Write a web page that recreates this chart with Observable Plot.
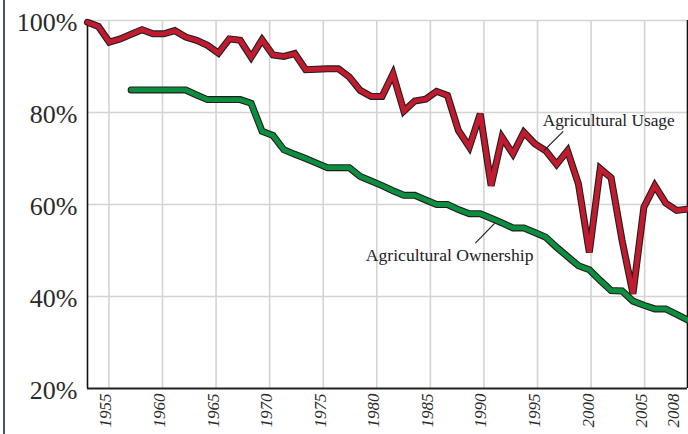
<!DOCTYPE html>
<html><head><meta charset="utf-8">
<script src="https://cdn.jsdelivr.net/npm/d3@7"></script>
<script src="https://cdn.jsdelivr.net/npm/@observablehq/plot@0.6"></script>
<style>
html,body{margin:0;padding:0;background:#fff;}
#wrap{position:relative;width:688px;height:434px;overflow:hidden;}
#edge{position:absolute;left:3px;top:0;width:2px;height:434px;background:#3f5861;}
#wrap svg{position:absolute;left:0;top:0;}
</style></head><body><div id="wrap"><div id="edge"></div></div>
<script>
const years = [1953,1954,1955,1956,1957,1958,1959,1960,1961,1962,1963,1964,1965,1966,1967,1968,1969,1970,1971,1972,1973,1974,1975,1976,1977,1978,1979,1980,1981,1982,1983,1984,1985,1986,1987,1988,1989,1990,1991,1992,1993,1994,1995,1996,1997,1998,1999,2000,2001,2002,2003,2004,2005,2006,2007,2008];
const usage = [99.6,98.7,95.3,96.0,97.0,98.0,97.1,97.1,97.8,96.4,95.7,94.6,92.9,96.0,95.7,92.0,95.8,92.5,92.2,92.8,89.3,89.4,89.5,89.5,87.7,84.8,83.5,83.5,88.4,80.3,82.5,82.9,84.6,83.7,76.1,72.5,79.7,64.1,74.6,71.0,75.7,73.2,71.7,68.7,71.7,64.5,49.6,67.8,65.8,52.2,40.6,59.4,64.1,60.3,58.7,59.0];
const ownershipStart = 1957;
const ownership = [84.9,84.9,84.9,84.9,84.9,84.9,83.8,82.8,82.8,82.8,82.8,82.0,75.9,75.0,71.9,70.9,70.0,69.0,68.0,68.0,68.0,66.1,65.1,64.1,63.0,62.0,62.0,61.0,60.0,60.0,58.9,58.0,58.0,57.0,56.0,54.9,54.9,53.9,52.9,50.7,48.7,46.7,45.8,43.5,41.3,41.2,39.0,38.1,37.3,37.3,36.1,34.9];
const xTickLabels = [1955,1960,1965,1970,1975,1980,1985,1990,1995,2000,2005,2008];
const xGrid = [1955,1960,1965,1970,1975,1980,1985,1990,1995,2000,2005];
const yTickLabels = [20,40,60,80,100];
const yGrid = [40,60,80,100];
const seriesNames = ["Agricultural Usage","Agricultural Ownership"];

const usageData = years.map((year, i) => ({year, value: usage[i]}));
const ownData = ownership.map((value, i) => ({year: ownershipStart + i, value}));

// the series are drawn evenly across the full frame (first to last year), slightly wider than the axis years
const first = years[0], last = years[years.length - 1];
const xPos = d => first + (d.year - first) * (last + 1 - first) / (last - first);

const red = "#c21b30", green = "#0b8f3e", outline = "#1e1e1e";
const serif = "'Liberation Serif', 'DejaVu Serif', serif";

const chart = Plot.plot({
  width: 688, height: 434,
  marginLeft: 87, marginRight: 1, marginTop: 20, marginBottom: 46,
  x: {domain: [first, last + 1], axis: null},
  y: {domain: [20, 100], axis: null},
  style: {fontFamily: serif, background: "transparent", overflow: "visible"},
  marks: [
    Plot.ruleY(yGrid, {stroke: "#d4d4d4", strokeWidth: 1.6}),
    Plot.ruleX(xGrid, {stroke: "#d4d4d4", strokeWidth: 1.6}),
    Plot.ruleX([first], {stroke: "#111", strokeWidth: 1.6}),
    Plot.ruleX([last + 1], {stroke: "#111", strokeWidth: 1.6}),
    Plot.ruleY([20], {stroke: "#222", strokeWidth: 2}),
    Plot.line(usageData, {x: xPos, y: "value", stroke: outline, strokeWidth: 7, strokeLinejoin: "miter", strokeMiterlimit: 4}),
    Plot.line(usageData, {x: xPos, y: "value", stroke: red, strokeWidth: 4.8, strokeLinejoin: "miter", strokeMiterlimit: 4}),
    Plot.line(ownData, {x: xPos, y: "value", stroke: outline, strokeWidth: 7, strokeLinejoin: "miter", strokeMiterlimit: 4}),
    Plot.line(ownData, {x: xPos, y: "value", stroke: green, strokeWidth: 4.8, strokeLinejoin: "miter", strokeMiterlimit: 4}),
    Plot.link([{x1: 1997.4, y1: 75.9, x2: 1995.6, y2: 71.7}], {x1: "x1", y1: "y1", x2: "x2", y2: "y2", stroke: "#222", strokeWidth: 1.2}),
    Plot.link([{x1: 1989.2, y1: 51.6, x2: 1991.0, y2: 55.9}], {x1: "x1", y1: "y1", x2: "x2", y2: "y2", stroke: "#222", strokeWidth: 1.2}),
    Plot.text([seriesNames[0]], {x: 2007.8, y: 78.3, text: d => d, textAnchor: "end", fontSize: 17.3, fill: "#222"}),
    Plot.text([seriesNames[1]], {x: 1986.8, y: 48.9, text: d => d, textAnchor: "middle", fontSize: 17.6, fill: "#222"}),
    Plot.text(yTickLabels, {x: first, y: d => d, text: d => d + "%", textAnchor: "end", dx: -10, dy: 2, fontSize: 26, fill: "#2a2a2a"}),
    Plot.text(xTickLabels, {x: d => d, y: 20, text: d => String(d), rotate: -90, textAnchor: "end", dy: 5, dx: -3, fontSize: 17, fontStyle: "italic", fill: "#2a2a2a"})
  ]
});
document.getElementById("wrap").appendChild(chart);
</script>
</body></html>
